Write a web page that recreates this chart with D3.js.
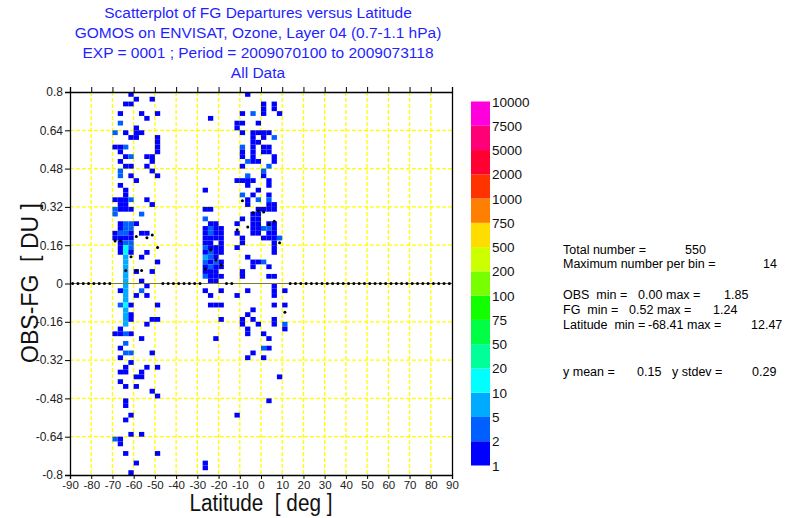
<!DOCTYPE html>
<html>
<head>
<meta charset="utf-8">
<script src="https://cdn.jsdelivr.net/npm/d3@7/dist/d3.min.js"></script>
<style>
  body { margin: 0; background: #ffffff; }
  text { font-family: Arial, "Liberation Sans", sans-serif; white-space: pre; }
</style>
</head>
<body>
<svg id="chart" width="791" height="518"></svg>
<script>
// ---- text ----
const titleLines = [
  "Scatterplot of FG Departures versus Latitude",
  "GOMOS on ENVISAT, Ozone, Layer 04 (0.7-1.1 hPa)",
  "EXP = 0001 ; Period = 2009070100 to 2009073118",
  "All Data"
];
const xLabel = "Latitude  [ deg ]";
const yLabel = "OBS-FG  [ DU ]";

// ---- axes ----
const xTicks = [-90, -80, -70, -60, -50, -40, -30, -20, -10, 0, 10, 20, 30, 40, 50, 60, 70, 80, 90];
const yTicks = [-0.8, -0.64, -0.48, -0.32, -0.16, 0, 0.16, 0.32, 0.48, 0.64, 0.8];
const yTickLabels = ["-0.8", "-0.64", "-0.48", "-0.32", "-0.16", "0", "0.16", "0.32", "0.48", "0.64", "0.8"];

// ---- colour classes (counts per bin) ----
const countLevels = [1, 2, 5, 10, 20, 50, 75, 100, 200, 500, 750, 1000, 2000, 5000, 7500, 10000];
const levelColors = ["#0000ff", "#0060ff", "#00aaff", "#00ffff", "#00ff99", "#00ff44", "#11ff00",
  "#77ff00", "#ccff00", "#ffdd00", "#ff8000", "#ff3300", "#ff0033", "#ff0077", "#ff00dd"];

// ---- bin sizes ----
const latStep = 2.5;
const depStep = 0.02;

// ---- binned counts: [latitude bin centre, departure bin centre, count] ----
const cellsSouth = [
  [-61.25,0.79,1],
  [-58.75,0.77,1],[-51.25,0.77,1],
  [-63.75,0.75,1],[-61.25,0.75,1],
  [-66.25,0.71,1],[-56.25,0.71,1],[-48.75,0.71,1],
  [-53.75,0.69,1],
  [-66.25,0.67,2],
  [-58.75,0.65,1],
  [-68.75,0.63,2],[-63.75,0.63,1],[-58.75,0.63,1],[-56.25,0.63,1],
  [-61.25,0.61,1],[-58.75,0.61,1],[-48.75,0.61,1],
  [-48.75,0.59,1],
  [-68.75,0.57,1],[-66.25,0.57,1],[-63.75,0.57,2],[-48.75,0.57,1],
  [-66.25,0.55,1],[-48.75,0.55,1],
  [-63.75,0.53,1],[-61.25,0.53,2],[-53.75,0.53,1],[-51.25,0.53,1],
  [-66.25,0.51,1],[-51.25,0.51,1],
  [-63.75,0.49,1],[-61.25,0.49,1],[-53.75,0.49,1],
  [-66.25,0.47,2],[-51.25,0.47,1],
  [-66.25,0.45,2],[-61.25,0.45,1],[-48.75,0.45,1],
  [-58.75,0.43,1],
  [-66.25,0.41,1],
  [-63.75,0.39,1],
  [-63.75,0.37,1],
  [-68.75,0.35,1],[-66.25,0.35,1],[-63.75,0.35,1],[-61.25,0.35,2],[-53.75,0.35,1],
  [-66.25,0.33,1],[-63.75,0.33,1],[-51.25,0.33,1],
  [-68.75,0.31,2],[-66.25,0.31,1],[-63.75,0.31,1],[-61.25,0.31,1],
  [-68.75,0.29,2],[-56.25,0.29,2],
  [-66.25,0.25,1],[-63.75,0.25,2],[-61.25,0.25,2],[-58.75,0.25,1],
  [-66.25,0.23,1],[-63.75,0.23,2],[-61.25,0.23,2],
  [-68.75,0.21,1],[-66.25,0.21,2],[-63.75,0.21,2],[-61.25,0.21,1],[-56.25,0.21,1],[-53.75,0.21,1],
  [-68.75,0.19,1],[-66.25,0.19,1],[-63.75,0.19,1],[-61.25,0.19,1],
  [-66.25,0.17,1],[-63.75,0.17,2],[-61.25,0.17,2],
  [-66.25,0.15,1],[-63.75,0.15,10],[-61.25,0.15,2],
  [-66.25,0.13,1],[-63.75,0.13,10],[-61.25,0.13,1],[-53.75,0.13,1],
  [-63.75,0.11,5],[-56.25,0.11,1],
  [-63.75,0.09,5],[-48.75,0.09,1],
  [-63.75,0.07,5],
  [-63.75,0.05,5],[-58.75,0.05,1],[-51.25,0.05,1],
  [-63.75,0.03,5],
  [-63.75,0.01,5],[-56.25,0.01,1],
  [-63.75,-0.01,5],[-53.75,-0.01,1],
  [-66.25,-0.03,1],[-63.75,-0.03,5],[-56.25,-0.03,2],
  [-63.75,-0.05,5],[-58.75,-0.05,1],[-53.75,-0.05,1],
  [-63.75,-0.07,5],
  [-66.25,-0.09,2],[-63.75,-0.09,14],[-61.25,-0.09,1],[-48.75,-0.09,1],
  [-63.75,-0.11,5],
  [-63.75,-0.13,5],[-61.25,-0.13,1],
  [-63.75,-0.15,5],[-61.25,-0.15,1],[-51.25,-0.15,1],[-48.75,-0.15,1],
  [-63.75,-0.17,5],[-53.75,-0.17,1],
  [-66.25,-0.19,1],
  [-68.75,-0.21,1],[-66.25,-0.21,1],[-63.75,-0.21,2],[-61.25,-0.21,1],
  [-56.25,-0.23,1],
  [-63.75,-0.25,2],
  [-66.25,-0.27,1],
  [-63.75,-0.29,2],[-61.25,-0.29,2],[-51.25,-0.29,1],
  [-66.25,-0.31,1],
  [-61.25,-0.33,1],
  [-63.75,-0.35,1],[-53.75,-0.35,1],[-48.75,-0.35,1],
  [-66.25,-0.37,1],[-63.75,-0.37,1],[-56.25,-0.37,1],
  [-58.75,-0.39,1],[-56.25,-0.39,1],
  [-66.25,-0.41,1],
  [-63.75,-0.43,1],[-58.75,-0.43,1],
  [-51.25,-0.45,1],
  [-48.75,-0.47,1],
  [-63.75,-0.49,1],
  [-63.75,-0.51,1],
  [-61.25,-0.55,1],
  [-63.75,-0.57,1],
  [-61.25,-0.63,1],[-56.25,-0.63,1],
  [-68.75,-0.65,2],[-66.25,-0.65,1],
  [-66.25,-0.67,1],
  [-63.75,-0.71,1],[-48.75,-0.71,1],
  [-58.75,-0.75,1],
  [-61.25,-0.79,1]
];

const cellsSubtropics = [
  [-23.75,0.69,1],
  [-26.25,0.39,1],
  [-26.25,0.31,1],[-23.75,0.31,1],
  [-26.25,0.27,2],
  [-23.75,0.25,1],[-21.25,0.25,1],
  [-26.25,0.23,1],[-23.75,0.23,2],[-21.25,0.23,1],[-18.75,0.23,1],
  [-26.25,0.21,1],[-23.75,0.21,2],[-21.25,0.21,1],[-18.75,0.21,1],
  [-26.25,0.19,1],[-23.75,0.19,1],[-21.25,0.19,1],[-18.75,0.19,1],
  [-26.25,0.17,1],[-23.75,0.17,1],[-18.75,0.17,1],
  [-26.25,0.15,2],[-23.75,0.15,1],[-21.25,0.15,1],[-18.75,0.15,1],
  [-26.25,0.13,1],[-23.75,0.13,2],[-21.25,0.13,1],[-18.75,0.13,1],
  [-26.25,0.11,5],[-23.75,0.11,2],[-21.25,0.11,1],
  [-26.25,0.09,2],[-23.75,0.09,1],[-21.25,0.09,2],[-18.75,0.09,1],
  [-26.25,0.07,1],[-23.75,0.07,2],[-21.25,0.07,1],[-18.75,0.07,1],
  [-26.25,0.05,1],[-23.75,0.05,1],[-21.25,0.05,1],
  [-26.25,0.03,2],[-23.75,0.03,1],[-21.25,0.03,1],[-18.75,0.03,1],
  [-23.75,0.01,1],[-21.25,0.01,1],
  [-26.25,-0.03,1],[-18.75,-0.03,1],
  [-23.75,-0.05,1],
  [-23.75,-0.09,1],[-21.25,-0.09,1],[-18.75,-0.09,1],
  [-18.75,-0.15,1],
  [-21.25,-0.23,1],
  [-26.25,-0.75,1],[-26.25,-0.77,1]
];

const cellsTropics = [
  [-6.25,0.79,1],
  [1.25,0.75,1],[6.25,0.75,1],
  [1.25,0.73,1],[6.25,0.73,1],
  [-8.75,0.71,1],[-3.75,0.71,2],[1.25,0.71,1],[8.75,0.71,1],
  [-11.25,0.67,1],[-8.75,0.67,1],[-1.25,0.67,1],
  [-11.25,0.65,1],
  [-8.75,0.63,1],[-3.75,0.63,1],[-1.25,0.63,1],[1.25,0.63,1],[3.75,0.63,1],
  [-3.75,0.61,1],[1.25,0.61,1],[6.25,0.61,2],
  [-3.75,0.59,1],[-1.25,0.59,1],
  [-8.75,0.57,2],[-3.75,0.57,1],[1.25,0.57,1],[3.75,0.57,1],
  [-8.75,0.55,1],[-3.75,0.55,1],[1.25,0.55,1],[3.75,0.55,1],
  [-8.75,0.53,1],[-3.75,0.53,1],[6.25,0.53,1],
  [-6.25,0.51,2],[-3.75,0.51,1],[-1.25,0.51,1],[6.25,0.51,1],
  [-8.75,0.49,1],[3.75,0.49,2],
  [1.25,0.47,2],
  [-6.25,0.45,2],[1.25,0.45,1],
  [-11.25,0.43,1],[-8.75,0.43,1],[-6.25,0.43,1],[-3.75,0.43,1],[3.75,0.43,1],
  [-6.25,0.41,1],[3.75,0.41,1],
  [-1.25,0.39,1],
  [-8.75,0.37,2],[-3.75,0.37,1],[3.75,0.37,1],
  [-6.25,0.35,1],[-1.25,0.35,2],[3.75,0.35,2],
  [-6.25,0.33,1],[3.75,0.33,1],[6.25,0.33,1],
  [-1.25,0.31,1],[1.25,0.31,1],[3.75,0.31,1],[6.25,0.31,1],
  [-3.75,0.29,1],[-1.25,0.29,1],
  [-8.75,0.27,1],[-3.75,0.27,1],[-1.25,0.27,1],
  [-11.25,0.25,1],[-3.75,0.25,1],[-1.25,0.25,1],[3.75,0.25,1],[6.25,0.25,1],
  [-3.75,0.23,1],[-1.25,0.23,1],[1.25,0.23,2],[3.75,0.23,2],[6.25,0.23,1],
  [-11.25,0.21,1],[-3.75,0.21,1],[-1.25,0.21,1],[3.75,0.21,1],[6.25,0.21,1],
  [-8.75,0.19,1],[1.25,0.19,1],[3.75,0.19,1],[6.25,0.19,1],[8.75,0.19,2],
  [-8.75,0.17,1],[6.25,0.17,1],
  [-11.25,0.15,1],[6.25,0.15,1],
  [6.25,0.13,1],
  [-6.25,0.11,1],
  [-3.75,0.09,1],[-1.25,0.09,1],[1.25,0.09,2],
  [-3.75,0.07,1],[3.75,0.07,1],
  [-8.75,0.05,1],
  [-8.75,0.03,1],[3.75,0.03,1],[6.25,0.03,1],
  [6.25,-0.01,1],
  [-6.25,-0.03,1],[6.25,-0.03,1],[11.25,-0.03,1],
  [-11.25,-0.05,1],[6.25,-0.05,1],
  [6.25,-0.09,1],[11.25,-0.09,1],
  [-3.75,-0.11,1],
  [-6.25,-0.13,1],
  [-8.75,-0.15,1],[-3.75,-0.15,1],[6.25,-0.15,1],
  [-8.75,-0.17,1],[-1.25,-0.17,1],[6.25,-0.17,1],[11.25,-0.17,2],
  [-6.25,-0.19,1],[11.25,-0.19,1],
  [-6.25,-0.21,1],[1.25,-0.21,1],
  [3.75,-0.23,1],
  [1.25,-0.27,2],[3.75,-0.27,1],
  [-3.75,-0.29,1],
  [-6.25,-0.31,1],[1.25,-0.31,1],
  [8.75,-0.39,1],
  [3.75,-0.49,1],
  [-11.25,-0.55,1]
];

// ---- mean departure per latitude bin (bins without data sit on zero) ----
const meanLat = [-68.75, -66.25, -63.75, -61.25, -58.75, -58.75, -56.25, -53.75, -51.25, -48.75,
  -26.25, -23.75, -21.25, -18.75, -11.25, -8.75, -6.25, -3.75, -1.25, 1.25, 3.75, 6.25, 8.75, 11.25];
const meanDep = [0.178, 0.178, 0.054, 0.112, 0.196, 0.054, 0.054, 0.191, 0.203, 0.150,
  0.061, 0.140, 0.098, 0.077, 0.225, 0.346, 0.236, 0.296, 0.304, 0.299, 0.246, 0.260, 0.170, -0.120];
const emptyBinLat = [
  -88.75, -86.25, -83.75, -81.25, -78.75, -76.25, -73.75, -71.25,
  -46.25, -43.75, -41.25, -38.75, -36.25, -33.75, -31.25, -28.75,
  -16.25, -13.75,
  13.75, 16.25, 18.75, 21.25, 23.75, 26.25, 28.75, 31.25, 33.75, 36.25, 38.75, 41.25, 43.75, 46.25,
  48.75, 51.25, 53.75, 56.25, 58.75, 61.25, 63.75, 66.25, 68.75, 71.25, 73.75, 76.25, 78.75, 81.25,
  83.75, 86.25, 88.75
];

// ---- summary statistics ----
const statLines = [
  { y: 254, parts: [["Total number =", 563], ["550", 685]] },
  { y: 268, parts: [["Maximum number per bin =", 563], ["14", 763]] },
  { y: 299, parts: [["OBS  min =", 563], ["0.00", 638], ["max =", 666], ["1.85", 724]] },
  { y: 314, parts: [["FG  min =", 563], ["0.52", 629], ["max =", 657], ["1.24", 713]] },
  { y: 329, parts: [["Latitude  min =", 563], ["-68.41", 648], ["max =", 687], ["12.47", 751]] },
  { y: 376, parts: [["y mean =", 563], ["0.15", 637], ["y stdev =", 672], ["0.29", 752]] }
];

// ---- drawing ----
const svg = d3.select("#chart");
const plot = { left: 70, right: 452, top: 92, bottom: 475 };

const x = d3.scaleLinear().domain([-90, 90]).range([plot.left, plot.right]);
const y = d3.scaleLinear().domain([-0.8, 0.8]).range([plot.bottom, plot.top]);
const colour = d3.scaleThreshold().domain(countLevels.slice(1, -1)).range(levelColors);

// titles
svg.append("g").selectAll("text").data(titleLines).join("text")
  .attr("x", 258).attr("y", (d, i) => 18 + i * 20)
  .attr("text-anchor", "middle").attr("font-size", 15.5).attr("fill", "#1f1fff")
  .text(d => d);

// grid
const grid = svg.append("g");
grid.selectAll("line.v").data(xTicks.filter(t => t > -90 && t < 90)).join("line")
  .attr("x1", d => x(d)).attr("x2", d => x(d))
  .attr("y1", plot.top).attr("y2", plot.bottom)
  .attr("stroke", "#ffff00").attr("stroke-width", 1.3).attr("stroke-dasharray", "4,2");
grid.selectAll("line.h").data(yTicks.filter(t => t > -0.8 && t < 0.8 && t !== 0)).join("line")
  .attr("x1", plot.left).attr("x2", plot.right)
  .attr("y1", d => y(d)).attr("y2", d => y(d))
  .attr("stroke", "#ffff00").attr("stroke-width", 1.3).attr("stroke-dasharray", "4,2");

// binned counts
const allCells = cellsSouth.concat(cellsSubtropics, cellsTropics);
svg.append("g").selectAll("rect").data(allCells).join("rect")
  .attr("x", d => x(d[0] - latStep / 2))
  .attr("width", d => x(d[0] + latStep / 2) - x(d[0] - latStep / 2))
  .attr("y", d => y(d[1] + depStep / 2))
  .attr("height", d => y(d[1] - depStep / 2) - y(d[1] + depStep / 2))
  .attr("fill", d => colour(d[2]));

// zero line
svg.append("line")
  .attr("x1", plot.left).attr("x2", plot.right)
  .attr("y1", y(0)).attr("y2", y(0))
  .attr("stroke", "#7a7a3a").attr("stroke-width", 1.2);

// bin means
const meanPts = meanLat.map((l, i) => [l, meanDep[i]]).concat(emptyBinLat.map(l => [l, 0]));
svg.append("g").selectAll("circle").data(meanPts).join("circle")
  .attr("cx", d => x(d[0])).attr("cy", d => y(d[1])).attr("r", 1.5)
  .attr("fill", "#000");

// axes
const axB = svg.append("g").attr("transform", `translate(0,${plot.bottom})`)
  .call(d3.axisBottom(x).tickValues(xTicks).tickSize(4).tickPadding(2).tickFormat(d => String(d)));
const axT = svg.append("g").attr("transform", `translate(0,${plot.top})`)
  .call(d3.axisTop(x).tickValues(xTicks).tickSize(5).tickFormat(""));
const axL = svg.append("g").attr("transform", `translate(${plot.left},0)`)
  .call(d3.axisLeft(y).tickValues(yTicks).tickSize(5).tickPadding(2)
    .tickFormat((d, i) => yTickLabels[i]));
const axR = svg.append("g").attr("transform", `translate(${plot.right},0)`)
  .call(d3.axisRight(y).tickValues([]).tickSize(0));
[axB, axT, axL, axR].forEach(g => {
  g.select(".domain").attr("stroke", "#000").attr("stroke-width", 1.3);
  g.selectAll(".tick line").attr("stroke", "#000");
  g.selectAll(".tick text").attr("font-size", 12).attr("fill", "#222")
    .attr("font-family", "Arial, 'Liberation Sans', sans-serif");
});
axB.selectAll(".tick text").attr("font-size", 11.5);

// axis titles
svg.append("text").attr("x", 261).attr("y", 511).attr("text-anchor", "middle")
  .attr("font-size", 23).attr("textLength", 143).attr("lengthAdjust", "spacingAndGlyphs")
  .attr("fill", "#111").text(xLabel);
svg.append("text").attr("transform", "translate(38,283) rotate(-90)")
  .attr("text-anchor", "middle").attr("font-size", 23)
  .attr("textLength", 160).attr("lengthAdjust", "spacingAndGlyphs")
  .attr("fill", "#111").text(yLabel);

// colour bar
const cb = { left: 471, right: 490, top: 101.5, bottom: 465.5 };
const cbY = d3.scaleLinear().domain([0, levelColors.length]).range([cb.bottom, cb.top]);
const cbG = svg.append("g");
cbG.selectAll("rect").data(levelColors).join("rect")
  .attr("x", cb.left).attr("width", cb.right - cb.left)
  .attr("y", (d, i) => cbY(i + 1)).attr("height", (d, i) => cbY(i) - cbY(i + 1))
  .attr("fill", d => d);
cbG.selectAll("text").data(countLevels).join("text")
  .attr("x", cb.right + 2).attr("y", (d, i) => cbY(i) + 5)
  .attr("font-family", "'Liberation Serif', 'DejaVu Serif', serif")
  .attr("font-size", 13.5).attr("fill", "#111")
  .text(d => d);

// statistics block
const st = svg.append("g");
statLines.forEach(line => {
  st.selectAll(null).data(line.parts).join("text")
    .attr("x", d => d[1]).attr("y", line.y)
    .attr("font-size", 12.5).attr("fill", "#000")
    .text(d => d[0]);
});
</script>
</body>
</html>
